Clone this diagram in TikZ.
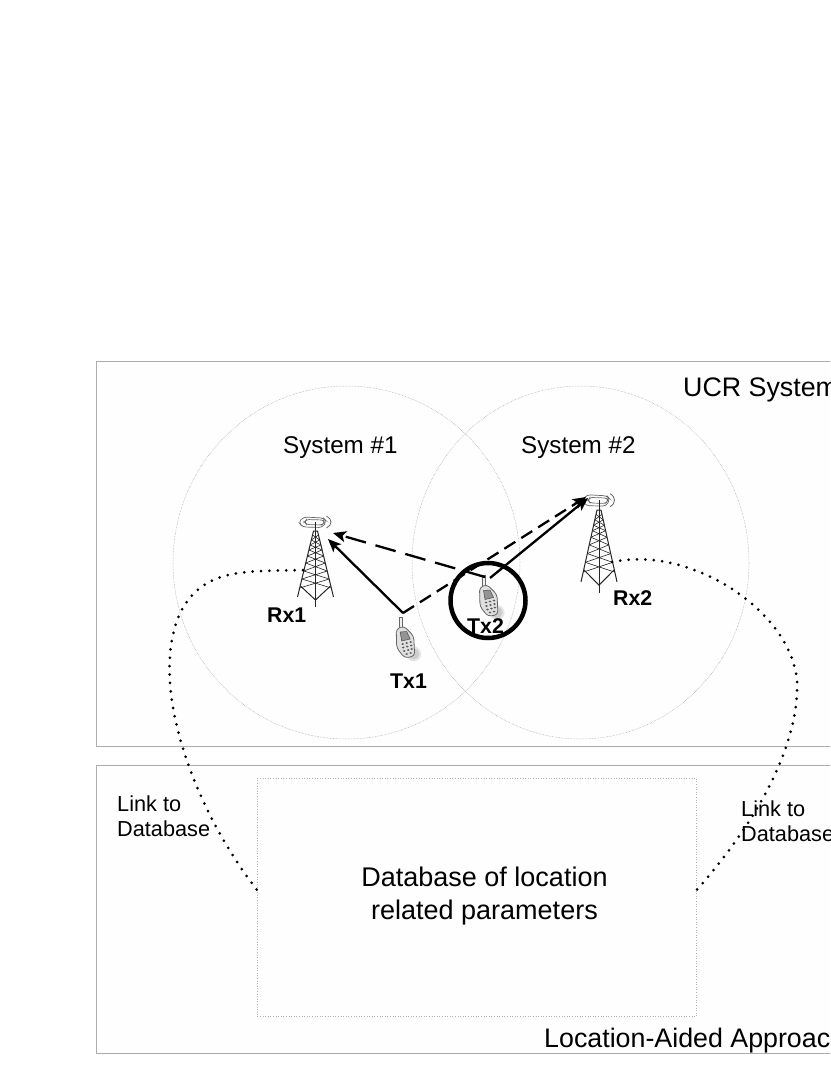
\documentclass[tikz,border=0pt]{standalone}
\usepackage{fontspec}
\setmainfont{Liberation Sans}
\usetikzlibrary{arrows.meta,shapes.geometric}
\tikzset{
  panel/.style={draw=black!32,line width=.6pt,fill=black!.5},
  cell/.style={ellipse,draw=black!38,line width=.5pt,densely dotted,inner sep=0pt},
  dbbox/.style={draw=black!30,line width=.6pt,dotted,fill=black!.5,inner sep=0pt,align=center},
  lbl/.style={inner sep=0pt,font=\fontsize{24.2}{29}\selectfont,anchor=base west},
  biglbl/.style={inner sep=0pt,font=\fontsize{26.8}{32}\selectfont,anchor=base west},
  small/.style={inner sep=0pt,font=\fontsize{21.7}{25}\selectfont,align=left,anchor=north west},
  devlbl/.style={inner sep=0pt,font=\bfseries\fontsize{21.3}{26}\selectfont,anchor=base west},
  link/.style={line width=2.3pt,-{Stealth[length=13pt,width=11pt,inset=3pt]}},
  dlinka/.style={link,dash pattern=on 21pt off 10pt},
  dlinkb/.style={link,dash pattern=on 13pt off 7pt},
  dblink/.style={line width=3pt,line cap=round,dash pattern=on 0pt off 8.4pt},
  lattice/.style={line width=.6pt,draw=black!85},
  frame/.style={line width=1pt,draw=black!85},
}
\newcommand{\towerdraw}{%
  \draw[black!60,line width=.7pt,rounded corners=3.5pt] (-12,-14) -- (8,-13) -- (11,-10) -- (7,-3.5) -- (-13,-4) -- (-17,-9) -- cycle;
  \draw[black!60,line width=.7pt,rounded corners=2.5pt] (-9,-11.5) -- (8,-11) -- (9,-8) -- (6,-6) -- (-9,-6.5) -- (-11,-9) -- cycle;
  \draw[black!60,line width=.8pt] (11,-15) .. controls (17,-12) and (17,-6) .. (11,-3);
  \draw[frame] (0,-9) -- (0,76);
  \draw[frame] (-18,66) -- (-2,0) -- (2,0) -- (18,66);
  \draw[frame] (-15,55) -- (0,69) -- (15,55);
  \foreach \a/\b in {4/9,9/14,14/19,19/25,25/32,32/40,40/48,48/57}{
    \pgfmathsetmacro{\wa}{2+16*\a/66}
    \pgfmathsetmacro{\wb}{2+16*\b/66}
    \draw[lattice] (-\wa,\a) -- (\wb,\b) (\wa,\a) -- (-\wb,\b);
  }
}
\newcommand{\phonedraw}{%
  \fill[black!10] (13,37) circle (7.5);
  \fill[black!20] (13,37) circle (5.5);
  \draw[black!60,line width=.7pt,fill=black!6] (-1.5,0) rectangle (1.5,11);
  \draw[black!60,line width=.8pt,fill=black!12,rounded corners=3.5pt] (-4.5,12) -- (3,9) -- (13,19) -- (14,39) -- (4,41) -- (-4,31) -- cycle;
  \draw[black!70,line width=.5pt,fill=black!42] (-.5,15) -- (6,14.5) -- (9.5,22) -- (1,24) -- cycle;
  \foreach \u/\v in {2/27,6/26,10/25,2.5/30.5,6.5/29.5,10.5/28.5,3.5/34,7.5/33,11/32,6/37,10/36}
    \fill[black!62] (\u,\v) ellipse (1.4 and 1);
}
\begin{document}
\begin{tikzpicture}[x=1pt,y=-1pt]
\clip (0,0) rectangle (830,1075);
\fill[white] (0,0) rectangle (830,1075);
% panels
\node[panel,inner sep=0pt,minimum width=760pt,minimum height=385pt,anchor=north west] (ucr) at (96,361) {};
\node[panel,inner sep=0pt,minimum width=760pt,minimum height=288pt,anchor=north west] (loc) at (96,765) {};
\node[biglbl] (ucrt) at (683,396) {UCR System};
\node[biglbl] (loct) at (544,1047) {Location-Aided Approac};
% cells
\node[cell,minimum width=347pt,minimum height=353pt] (c1) at (346.5,562.5) {};
\node[cell,minimum width=337pt,minimum height=353pt] (c2) at (580.5,562.5) {};
\node[lbl] (s1) at (283,453) {System \#1};
\node[lbl] (s2) at (521,453) {System \#2};
% database
\node[dbbox,minimum width=439pt,minimum height=238pt,anchor=north west] (db) at (257,778) {};
\node[inner sep=0pt,align=center,font=\fontsize{27}{33}\selectfont] (dbt) at (484.5,896.5) {Database of location\\related parameters};
\node[small] (l1) at (117,795.5) {Link to\\Database};
\node[small] (l2) at (741,800.5) {Link to\\Database};
% towers
\begin{scope}[shift={(315.5,531)}]\towerdraw\end{scope}
\begin{scope}[shift={(599,510)},yscale=1.09]\towerdraw\end{scope}
% phones
\begin{scope}[shift={(400.7,617)}]\phonedraw\end{scope}
\begin{scope}[shift={(484,575.5)}]\phonedraw\end{scope}
% labels
\node[devlbl] (rx1) at (267,622) {Rx1};
\node[devlbl] (rx2) at (613,605) {Rx2};
\node[devlbl] (tx1) at (390,688) {Tx1};
\node[devlbl] (tx2) at (467,633) {Tx2};
% anchors on the devices
\coordinate (tx1a) at (403,613);
\coordinate (tx2a) at (485,577);
\coordinate (tx2b) at (490,578);
\coordinate (rx1a) at (333,533);
\coordinate (rx1b) at (328,539);
\coordinate (rx2b) at (588,498);
\coordinate (rx2c) at (586,497);
\coordinate (rx1l) at (303,570);
\coordinate (rx2l) at (612,562);
% links
\draw[link] (tx1a) -- (rx1b);
\draw[dlinkb] (tx1a) -- (rx2c);
\draw[link] (tx2b) -- (rx2b);
\draw[dlinka] (tx2a) -- (rx1a);
% interference circle
\node[circle,draw=black,line width=4.5pt,minimum size=75pt,inner sep=0pt] (ring) at (488,600.5) {};
% database links
\draw[dblink] (rx1l) .. controls (250,572) and (200,565) .. (178,618)
  .. controls (150,690) and (195,810) .. (db.west|-0,890);
\draw[dblink] (rx2l) .. controls (690,545) and (790,610) .. (797,680)
  .. controls (800,750) and (750,830) .. (db.east|-0,890);
\end{tikzpicture}
\end{document}
